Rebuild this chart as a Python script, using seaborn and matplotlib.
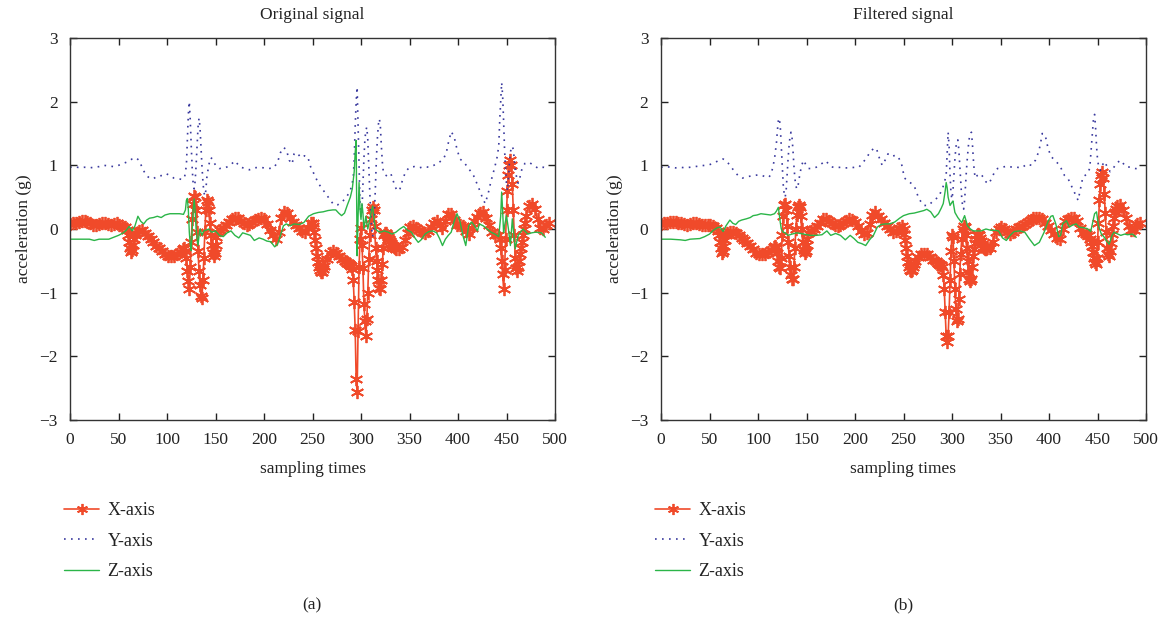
import numpy as np
import pandas as pd
import matplotlib
matplotlib.use("Agg")
import matplotlib.pyplot as plt
import seaborn as sns

# ---------------------------------------------------------------
# Data: (sample index, acceleration in g)
# ---------------------------------------------------------------

# (a) original signal
x_axis_a = [
    (0, .08), (3, .09), (6, .1), (9, .11), (12, .12), (15, .12), (18, .11), (21, .09), (24, .07), (27, .06),
    (30, .08), (33, .1), (36, .1), (39, .08), (42, .07), (45, .08), (48, .09), (51, .07), (54, .05), (57, .03),
    (59, -.02), (60, -.1), (61, -.2), (62, -.3), (63, -.36), (64, -.33), (65, -.25), (66, -.16), (67, -.1), (68, -.06),
    (71, -.03), (74, -.02), (77, -.06), (80, -.11), (83, -.16), (86, -.21), (89, -.26), (92, -.3), (95, -.35), (98, -.39),
    (101, -.42), (104, -.43), (107, -.42), (110, -.4), (113, -.36), (116, -.32),
    (118, -.3), (119, -.35), (120, -.45), (121, -.66), (122, -.81), (123, -.95), (124, -.6), (125, -.2), (126, .15),
    (127, .4), (128, .52), (129, .5), (130, .3), (131, -.05), (132, -.35), (133, -.66), (134, -.88), (135, -1.05),
    (136, -1.08), (137, -.8), (138, -.45), (139, -.05), (140, .3), (141, .45), (142, .43), (143, .3), (144, .1),
    (145, -.1), (146, -.25), (147, -.38), (148, -.42), (149, -.38), (150, -.25), (151, -.12), (152, -.05),
    (155, -.02), (158, .02), (161, .06), (164, .11), (167, .16), (170, .18), (173, .17), (176, .13), (179, .09),
    (182, .07), (185, .08), (188, .11), (191, .14), (194, .16), (197, .17), (200, .15), (203, .08), (206, -.02),
    (209, -.1), (212, -.15), (215, -.05), (218, .18), (221, .27), (224, .25), (227, .18), (230, .11), (233, .07),
    (236, .02), (239, -.03), (242, -.05), (245, .02), (248, .09),
    (250, .1), (251, .05), (252, -.05), (253, -.18), (254, -.3), (255, -.42), (256, -.52), (257, -.6), (258, -.65),
    (259, -.68), (260, -.67), (261, -.63), (262, -.58),
    (265, -.47), (268, -.38), (271, -.35), (274, -.38), (277, -.43), (280, -.47), (283, -.5), (286, -.53),
    (287, -.54), (288, -.55), (289, -.56), (290, -.58), (291, -.63), (292, -.8), (293, -1.15), (294, -1.58),
    (295, -2.35), (296, -2.56), (297, -1.6), (298, -.6), (299, -.15), (300, .02), (301, -.25), (302, -.62),
    (303, -1.18), (304, -1.45), (305, -1.68), (306, -1.42), (307, -1.0), (308, -.47), (309, -.1), (310, .15),
    (311, .3), (312, .35), (313, .3), (314, .05), (315, -.3), (316, -.5), (317, -.65), (318, -.8), (319, -.92),
    (320, -.94), (321, -.8), (322, -.55), (323, -.3), (324, -.1), (325, -.06), (326, -.07), (327, -.1), (328, -.13),
    (329, -.16), (330, -.19), (331, -.22), (332, -.25), (333, -.27), (334, -.29), (335, -.3), (336, -.31),
    (339, -.31), (342, -.28), (345, -.18), (348, -.06), (351, .03), (354, .05), (357, .02), (360, -.02), (363, -.05),
    (366, -.07), (369, -.03), (372, .03), (375, .09), (378, .12), (381, .07), (384, .02), (387, .12), (390, .24),
    (393, .24), (396, .14), (399, .07), (402, .06), (405, .04), (408, -.03), (411, -.08), (414, .02), (417, .12),
    (420, .19), (423, .25), (426, .26), (429, .18), (432, .06), (435, -.05), (438, -.09), (441, -.1),
    (443, -.15), (444, -.3), (445, -.5), (446, -.7), (447, -.94), (448, -.65), (449, -.15), (450, .3), (451, .6),
    (452, .85), (453, 1.0), (454, 1.08), (455, 1.0), (456, .7), (457, .3), (458, -.1), (459, -.45), (460, -.62),
    (461, -.66), (462, -.6), (463, -.5), (464, -.4), (465, -.3), (466, -.2), (467, -.1), (468, 0), (469, .1), (470, .2),
    (473, .36), (476, .4), (479, .32), (482, .15), (485, .02), (488, .0), (491, .06), (494, .1),
]

y_axis_a = [
    (0, .97), (5, .98), (10, .96), (15, .97), (20, .96), (25, .97), (30, .98), (35, 1.0), (40, .99), (45, .98),
    (50, 1.0), (55, 1.03), (60, 1.06), (64, 1.1), (68, 1.12), (71, 1.08), (74, .98), (78, .85), (82, .8), (86, .79),
    (90, .83), (95, .84), (99, .87), (103, .84), (107, .8), (111, .79), (115, .78), (118, .8), (120, 1.0), (121, 1.4),
    (122, 1.8), (123, 2.0), (124, 1.7), (125, 1.3), (126, .95), (127, .7), (128, .63), (129, .75), (130, 1.0),
    (131, 1.3), (132, 1.6), (133, 1.74), (134, 1.6), (135, 1.3), (136, 1.0), (137, .75), (138, .58), (139, .52),
    (140, .6), (141, .8), (143, 1.0), (145, 1.12), (147, 1.1), (150, 1.0), (154, .95), (160, .96), (165, 1.0),
    (170, 1.07), (175, .98), (180, .95), (185, .93), (190, .96), (195, .97), (200, .96), (205, .95), (210, .96),
    (214, 1.05), (217, 1.2), (220, 1.28), (223, 1.25), (226, 1.08), (229, 1.02), (231, 1.18), (234, 1.2),
    (238, 1.12), (242, 1.15), (245, 1.14), (248, .98), (252, .85), (256, .72), (260, .63), (264, .55), (268, .46),
    (272, .38), (276, .38), (280, .42), (284, .48), (287, .55), (290, .65), (292, .8), (293, 1.1), (294, 1.6),
    (295, 2.0), (296, 2.23), (297, 1.6), (298, .9), (299, .4), (300, .18), (301, .3), (302, .7), (303, 1.1),
    (304, 1.4), (305, 1.55), (306, 1.6), (307, 1.4), (308, 1.0), (309, .6), (310, .25), (311, 0.0), (312, -.12),
    (313, -.05), (314, .3), (315, .75), (316, 1.15), (317, 1.45), (318, 1.65), (319, 1.73), (320, 1.6), (321, 1.3),
    (322, 1.05), (323, .9), (325, .85), (328, .82), (331, .86), (334, .72), (337, .6), (340, .62), (343, .78),
    (346, .9), (350, .97), (355, .98), (360, .96), (365, .98), (370, .97), (375, 1.0), (380, 1.04), (385, 1.1),
    (388, 1.2), (390, 1.35), (393, 1.53), (396, 1.45), (399, 1.25), (402, 1.1), (406, 1.05), (411, .95),
    (416, .84), (421, .66), (425, .5), (428, .4), (431, .55), (434, .75), (437, .92), (440, 1.1), (442, 1.3),
    (443, 1.7), (444, 2.0), (445, 2.3), (446, 2.1), (447, 1.7), (448, 1.25), (449, .95), (450, .7), (451, .6),
    (452, .8), (453, 1.05), (454, 1.2), (455, 1.28), (456, 1.3), (457, 1.25), (458, 1.1), (459, .95), (460, .85),
    (461, .75), (462, .72), (464, .82), (466, .95), (469, 1.03), (473, 1.05), (478, 1.0), (483, .95), (488, .97),
    (493, .95),
]

z_axis_a = [
    (0, -.16), (10, -.16), (20, -.16), (25, -.18), (30, -.16), (40, -.16), (45, -.13), (50, -.1), (55, -.06),
    (58, -.02), (61, .04), (64, -.03), (67, .05), (70, .2), (73, .12), (76, .08), (79, .14), (82, .17), (86, .18),
    (90, .2), (94, .18), (98, .22), (103, .24), (108, .24), (113, .24), (117, .23), (119, .3), (120, .45),
    (121, .48), (122, .3), (123, -.05), (124, -.25), (125, -.34), (126, 0.0), (127, .3), (128, .47), (129, .3),
    (130, 0.0), (131, -.15), (132, -.26), (133, -.1), (134, 0.0), (136, -.1), (138, -.03), (140, -.02), (143, 0.0),
    (146, -.05), (150, -.03), (154, -.1), (158, -.12), (162, -.06), (166, -.03), (170, -.1), (174, -.14),
    (178, -.06), (182, -.08), (186, -.1), (190, -.18), (195, -.14), (199, -.16), (203, -.19), (207, -.2),
    (211, -.28), (214, -.24), (217, -.1), (220, .05), (223, .08), (227, .05), (231, .08), (236, .07), (241, .1),
    (246, .2), (251, .24), (256, .26), (261, .27), (266, .29), (271, .3), (274, .3), (277, .25), (280, .21),
    (283, .25), (286, .38), (289, .5), (291, .63), (293, .9), (294, 1.2), (295, 1.39), (296, -.42), (297, .2),
    (298, .73), (299, .3), (300, .15), (301, .4), (302, .25), (303, 0.0), (304, .1), (305, .2), (307, 0.0),
    (309, .15), (311, .3), (312, .36), (313, .2), (315, 0.0), (317, -.03), (320, -.05), (324, -.03), (328, -.05),
    (332, -.08), (336, -.05), (340, 0.0), (344, .04), (348, -.02), (352, -.05), (356, -.15), (359, -.21),
    (362, -.17), (366, -.08), (370, -.04), (374, -.03), (378, -.06), (381, -.15), (384, -.26), (387, -.16),
    (390, -.1), (393, -.05), (396, .12), (399, .24), (402, .12), (405, -.1), (408, -.26), (411, .05), (414, .11),
    (417, .05), (420, -.03), (422, .08), (426, .05), (430, 0.0), (434, -.05), (438, -.08), (442, -.12), (444, .2),
    (445, .58), (446, .3), (447, -.06), (448, .05), (450, .21), (452, 0.0), (454, -.26), (456, .16), (459, -.31),
    (462, -.1), (467, 0.0), (472, -.08), (476, -.06), (480, -.05), (486, -.06), (490, -.13),
]

# (b) filtered signal
x_axis_b = [
    (0, .08), (3, .09), (6, .1), (9, .11), (12, .11), (15, .11), (18, .1), (21, .09), (24, .08), (27, .07),
    (30, .08), (33, .09), (36, .09), (39, .08), (42, .07), (45, .07), (48, .07), (51, .06), (54, .04), (57, .02),
    (59, -.03), (60, -.1), (61, -.2), (62, -.3), (63, -.37), (64, -.34), (65, -.26), (66, -.17), (67, -.1), (68, -.06),
    (71, -.04), (74, -.05), (77, -.07), (80, -.1), (83, -.14), (86, -.18), (89, -.22), (92, -.27), (95, -.32),
    (98, -.37), (101, -.39), (104, -.4), (107, -.39), (110, -.36), (113, -.33), (116, -.29),
    (118, -.27), (119, -.3), (120, -.38), (121, -.5), (122, -.6), (123, -.62), (124, -.45), (125, -.1), (126, .2),
    (127, .38), (128, .4), (129, .3), (130, .05), (131, -.2), (132, -.42), (133, -.6), (134, -.72), (135, -.79),
    (136, -.78), (137, -.6), (138, -.3), (139, 0), (140, .22), (141, .35), (142, .38), (143, .35), (144, .2),
    (145, 0), (146, -.2), (147, -.33), (148, -.38), (149, -.35), (150, -.25), (151, -.15), (152, -.07),
    (155, -.03), (158, .0), (161, .05), (164, .1), (167, .15), (170, .16), (173, .13), (176, .09), (179, .06),
    (182, .05), (185, .06), (188, .09), (191, .13), (194, .15), (197, .14), (200, .11), (203, .05), (206, -.03),
    (209, -.08), (212, -.06), (215, .08), (218, .22), (221, .26), (224, .21), (227, .15), (230, .1), (233, .05),
    (236, .0), (239, -.04), (242, -.03), (245, .02), (248, .04),
    (250, .0), (251, -.08), (252, -.18), (253, -.3), (254, -.42), (255, -.52), (256, -.6), (257, -.64), (258, -.66),
    (259, -.65), (260, -.6), (261, -.55), (262, -.5),
    (265, -.44), (268, -.4), (271, -.39), (274, -.4), (277, -.44), (280, -.48), (283, -.51), (286, -.54),
    (287, -.55), (288, -.56), (289, -.57), (290, -.6), (291, -.73), (292, -.94), (293, -1.31), (294, -1.68),
    (295, -1.78), (296, -1.68), (297, -1.3), (298, -.8), (299, -.34), (300, -.1), (301, -.12), (302, -.5),
    (303, -.95), (304, -1.25), (305, -1.44), (306, -1.42), (307, -1.1), (308, -.7), (309, -.4), (310, -.15),
    (311, 0), (312, .05), (313, .03), (314, -.1), (315, -.3), (316, -.5), (317, -.68), (318, -.78), (319, -.81),
    (320, -.78), (321, -.6), (322, -.42), (323, -.31), (324, -.22), (325, -.15), (326, -.1), (327, -.08),
    (328, -.1), (329, -.14), (330, -.19), (331, -.24), (332, -.28), (333, -.3), (334, -.31), (335, -.31), (336, -.3),
    (339, -.3), (342, -.2), (345, -.05), (348, 0), (351, .03), (354, 0), (357, -.05), (360, -.08), (363, -.05),
    (366, 0), (369, .03), (372, .05), (375, .08), (378, .11), (381, .14), (384, .17), (387, .18), (390, .18),
    (393, .16), (396, .1), (399, .05), (402, -.02), (405, -.08), (408, -.14), (411, -.16), (414, 0), (417, .12),
    (420, .16), (423, .18), (426, .17), (429, .12), (432, .02), (435, -.06), (438, -.08), (441, -.1),
    (442, -.15), (443, -.2), (444, -.27), (445, -.36), (446, -.45), (447, -.52), (448, -.55), (449, -.45),
    (450, -.2), (451, .1), (452, .45), (453, .7), (454, .85), (455, .9), (456, .8), (457, .55), (458, .25),
    (459, -.05), (460, -.3), (461, -.4), (462, -.42), (463, -.35), (464, -.22), (465, -.08), (466, .05),
    (467, .17), (468, .26), (469, .32), (470, .36),
    (473, .37), (476, .3), (479, .18), (482, .05), (485, -.02), (488, -.02), (491, .08), (494, .1),
]

y_axis_b = [
    (0, .97), (5, .98), (10, .97), (15, .96), (20, .97), (25, .96), (30, .97), (35, .98), (40, .99), (45, 1.0),
    (50, 1.01), (55, 1.04), (60, 1.08), (64, 1.1), (68, 1.06), (72, .98), (76, .9), (80, .83), (84, .8), (88, .82),
    (92, .83), (96, .84), (100, .85), (104, .84), (108, .82), (111, .81), (113, .85), (115, .95), (117, 1.1),
    (119, 1.35), (120, 1.55), (121, 1.7), (122, 1.74), (123, 1.6), (124, 1.3), (125, 1.0), (126, .7), (127, .55),
    (128, .5), (129, .6), (130, .85), (131, 1.1), (132, 1.3), (133, 1.45), (134, 1.52), (135, 1.45), (136, 1.25),
    (137, 1.0), (138, .8), (139, .68), (140, .63), (141, .65), (143, .85), (145, 1.0), (147, 1.08), (149, 1.02),
    (152, .95), (156, .95), (160, .97), (165, 1.02), (170, 1.07), (175, .98), (180, .96), (185, .97), (190, .96),
    (195, .96), (200, .97), (204, .97), (208, 1.04), (212, 1.12), (216, 1.22), (219, 1.26), (222, 1.27),
    (225, 1.12), (228, 1.0), (231, 1.08), (234, 1.18), (238, 1.14), (242, 1.16), (245, 1.12), (248, 1.02),
    (251, .8), (256, .74), (261, .68), (266, .47), (271, .37), (276, .37), (281, .45), (286, .5), (290, .63),
    (292, .72), (294, .85), (295, 1.2), (296, 1.52), (297, 1.3), (298, .85), (299, .55), (300, .47), (301, .6),
    (302, .85), (303, 1.1), (304, 1.28), (305, 1.38), (306, 1.4), (307, 1.25), (308, 1.0), (309, .75), (310, .5),
    (311, .35), (312, .31), (313, .45), (314, .7), (315, .95), (316, 1.15), (317, 1.32), (318, 1.45), (319, 1.5),
    (320, 1.52), (321, 1.35), (322, 1.1), (323, .9), (324, .8), (326, .84), (329, .87), (332, .82), (335, .74),
    (338, .71), (341, .8), (344, .9), (347, .95), (352, .97), (357, .99), (362, .97), (367, .97), (372, .96),
    (377, 1.02), (382, 1.0), (386, 1.08), (389, 1.2), (391, 1.32), (393, 1.5), (396, 1.48), (399, 1.27),
    (402, 1.14), (406, 1.08), (411, 1.0), (416, .84), (420, .78), (423, .68), (427, .55), (430, .45), (432, .6),
    (435, .82), (439, .86), (442, .95), (444, 1.35), (446, 1.76), (447, 1.8), (448, 1.6), (449, 1.3), (450, 1.1),
    (451, 1.0), (453, .92), (455, 1.0), (457, 1.06), (460, .98), (463, .9), (466, .95), (470, 1.04), (474, 1.08),
    (479, .98), (484, .97), (489, .95), (494, .94),
]

z_axis_b = [
    (0, -.16), (10, -.16), (20, -.17), (25, -.18), (30, -.16), (40, -.15), (45, -.12), (50, -.08), (54, -.02),
    (58, .02), (61, .03), (64, -.04), (67, .05), (71, .14), (74, .09), (77, .07), (80, .12), (83, .14), (88, .16),
    (92, .18), (95, .21), (99, .22), (103, .24), (108, .23), (113, .22), (117, .24), (119, .28), (121, .34),
    (123, .1), (124, 0.0), (126, -.05), (128, -.06), (131, -.1), (135, -.08), (140, -.06), (147, -.08),
    (154, -.1), (160, -.1), (166, -.09), (171, -.03), (175, -.1), (180, -.07), (185, -.1), (190, -.17),
    (195, -.1), (199, -.15), (203, -.21), (207, -.23), (211, -.26), (215, -.17), (219, -.1), (223, .03),
    (227, .07), (231, .08), (236, .08), (241, .11), (246, .17), (250, .21), (256, .24), (261, .25), (266, .27),
    (271, .29), (274, .31), (278, .27), (282, .18), (286, .24), (289, .33), (291, .4), (293, .6), (294, .73),
    (295, .65), (296, .5), (298, .37), (300, .42), (301, .44), (303, .26), (306, .18), (310, .1), (313, .21),
    (316, .05), (319, 0.0), (322, -.03), (326, -.03), (330, -.03), (335, 0.0), (340, -.02), (344, -.02),
    (348, -.03), (352, -.14), (356, -.18), (360, -.1), (364, -.04), (370, -.03), (375, -.05), (380, -.16),
    (385, -.26), (390, -.21), (395, -.05), (399, .12), (402, .2), (404, .21), (407, .08), (410, -.12),
    (412, -.1), (414, .08), (418, .13), (421, .03), (424, .06), (428, .08), (431, .03), (436, .02), (440, 0.0),
    (443, -.04), (445, .1), (447, .24), (449, .27), (451, .05), (454, -.08), (457, -.13), (460, -.2),
    (462, -.24), (465, -.1), (467, -.05), (471, -.08), (474, -.1), (478, -.08), (481, -.09), (486, -.08),
    (490, -.13),
]

panels = [
    ("Original signal", "(a)", x_axis_a, y_axis_a, z_axis_a),
    ("Filtered signal", "(b)", x_axis_b, y_axis_b, z_axis_b),
]

series_names = ["X-axis", "Y-axis", "Z-axis"]
cor_x = "#F04A2A"
cor_y = "#3A3A9E"
cor_z = "#2BB548"

# ---------------------------------------------------------------
# Style
# ---------------------------------------------------------------
sns.set_style("ticks")
plt.rcParams["font.family"] = ["Liberation Serif", "DejaVu Serif"]
plt.rcParams["axes.unicode_minus"] = True
plt.rcParams["xtick.direction"] = "in"
plt.rcParams["ytick.direction"] = "in"

fig = plt.figure(figsize=(11.65, 6.23), dpi=100)
lefts = [70 / 1165, 661 / 1165]

for (titulo, legenda, sx, sy, sz), left in zip(panels, lefts):
    ax = fig.add_axes([left, 1 - 420 / 623, 485 / 1165, 382 / 623])

    dx = pd.DataFrame(sx, columns=["sample", "acc"])
    dy = pd.DataFrame(sy, columns=["sample", "acc"])
    dz = pd.DataFrame(sz, columns=["sample", "acc"])

    sns.lineplot(data=dx, x="sample", y="acc", ax=ax, color=cor_x, lw=1.2,
                 marker=(6, 2, 0), markersize=9.5, markeredgewidth=1.3,
                 markeredgecolor=cor_x, sort=False, estimator=None, label=series_names[0])
    sns.lineplot(data=dy, x="sample", y="acc", ax=ax, color=cor_y, lw=1.2,
                 linestyle=(0, (1, 3.2)), sort=False, estimator=None, label=series_names[1])
    sns.lineplot(data=dz, x="sample", y="acc", ax=ax, color=cor_z, lw=1.0,
                 sort=False, estimator=None, label=series_names[2])

    ax.set_xlim(0, 500)
    ax.set_ylim(-3, 3)
    ax.set_xticks(np.arange(0, 501, 50))
    ax.set_yticks(np.arange(-3, 4, 1))
    ax.tick_params(top=True, right=True, length=5, width=1, pad=9,
                   labelsize=12.5, colors="#222222")
    for sp in ax.spines.values():
        sp.set_color("#333333")
        sp.set_linewidth(1.0)

    ax.set_title(titulo, fontsize=12.5, pad=14, color="#222222")
    ax.set_xlabel("sampling times", fontsize=12.5, labelpad=9, color="#222222")
    ax.set_ylabel("acceleration (g)", fontsize=12.5, labelpad=5, color="#222222")

    leg = ax.legend(loc="upper left", bbox_to_anchor=(-0.012, -0.215), frameon=False,
                    fontsize=13, handlelength=1.95, handletextpad=0.45, labelspacing=0.75,
                    borderaxespad=0, borderpad=0, labelcolor="#222222")
    for h in leg.legend_handles:
        h.set_markersize(8)

    # caption under each panel
    fig.text(left + 242 / 1165, 1 - 605 / 623, legenda, ha="center", va="center",
             fontsize=12.5, color="#222222")

fig.savefig("out.png", dpi=100)
